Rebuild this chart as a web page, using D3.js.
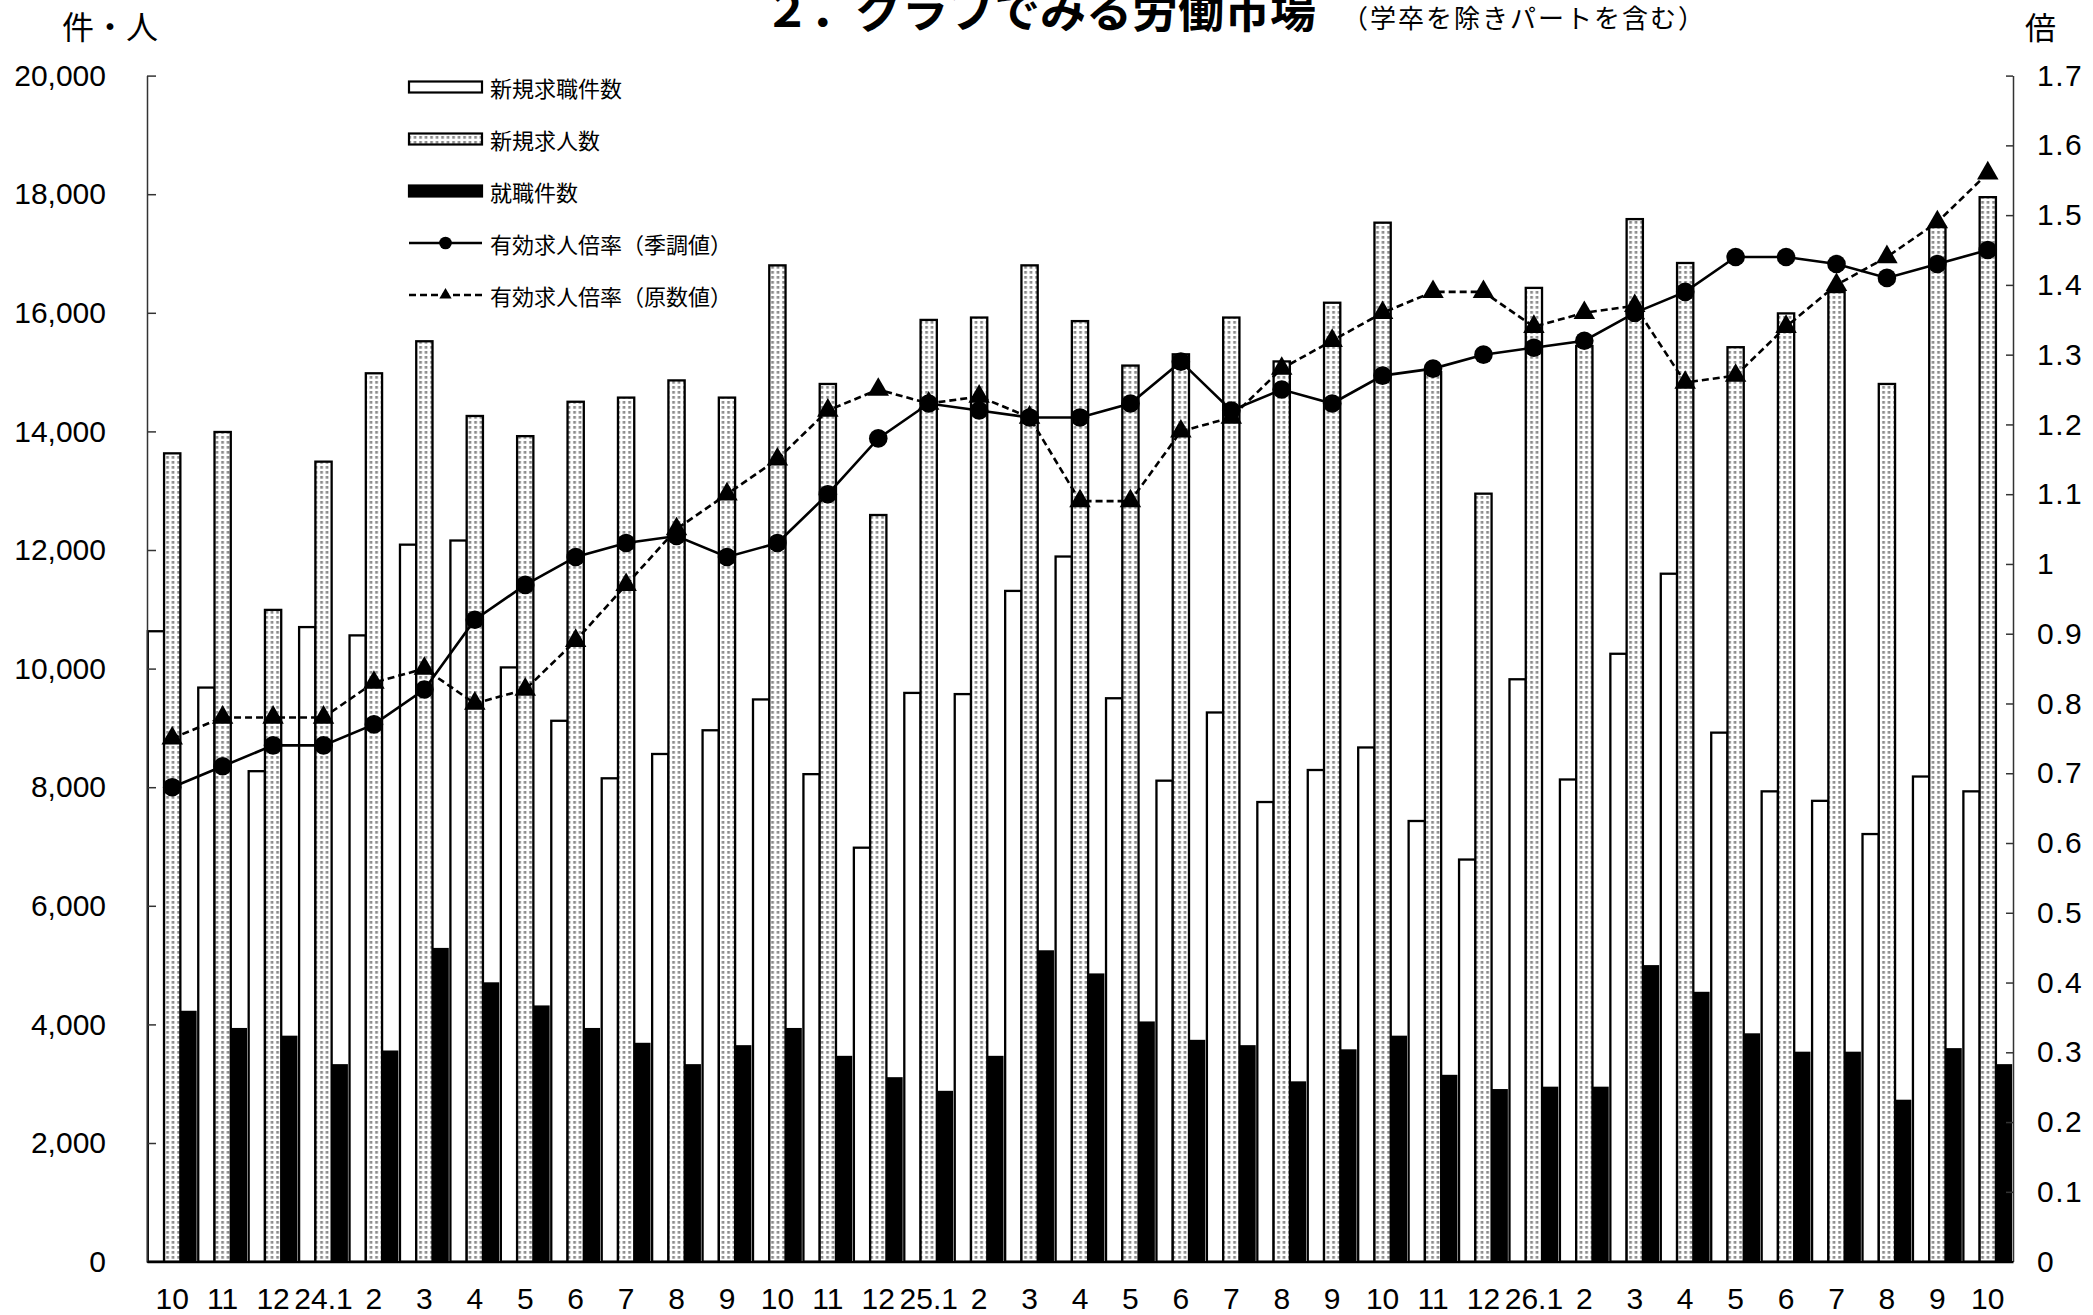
<!DOCTYPE html>
<html>
<head>
<meta charset="utf-8">
<script src="https://cdn.jsdelivr.net/npm/d3@7"></script>
<style>
  body { margin: 0; background: #fff; }
  svg { display: block; font-family: "Noto Sans CJK JP", "Noto Sans", sans-serif; }
</style>
</head>
<body>
<svg id="chart" width="2093" height="1315"></svg>
<script>
// 月ラベル（平成23年10月〜26年10月）
const months = ["10","11","12","24.1","2","3","4","5","6","7","8","9","10","11","12",
  "25.1","2","3","4","5","6","7","8","9","10","11","12",
  "26.1","2","3","4","5","6","7","8","9","10"];

// 新規求職件数
const seekers = [10630, 9680, 8270, 10700, 10560, 12090, 12160, 10020, 9120, 8150, 8560, 8960, 9480, 8220, 6980,
  9590, 9570, 11310, 11890, 9500, 8110, 9260, 7750, 8290, 8670, 7430, 6780,
  9820, 8130, 10250, 11600, 8920, 7930, 7770, 7210, 8180, 7930];
// 新規求人数
const offers = [13630, 13990, 10990, 13490, 14980, 15520, 14260, 13920, 14500, 14570, 14860, 14570, 16800, 14800, 12590,
  15880, 15920, 16800, 15860, 15110, 15300, 15920, 15180, 16170, 17520, 15000, 12950,
  16420, 15440, 17580, 16840, 15420, 15990, 16350, 14800, 17450, 17950];
// 就職件数
const placements = [4230, 3940, 3810, 3330, 3560, 5290, 4710, 4320, 3940, 3690, 3330, 3650, 3940, 3470, 3110,
  2880, 3470, 5250, 4860, 4050, 3740, 3650, 3040, 3580, 3810, 3150, 2910,
  2950, 2950, 5000, 4550, 3850, 3540, 3540, 2730, 3600, 3330];
// 有効求人倍率（季調値）
const ratioSA = [0.68, 0.71, 0.74, 0.74, 0.77, 0.82, 0.92, 0.97, 1.01, 1.03, 1.04, 1.01, 1.03, 1.10, 1.18,
  1.23, 1.22, 1.21, 1.21, 1.23, 1.29, 1.22, 1.25, 1.23, 1.27, 1.28, 1.30,
  1.31, 1.32, 1.36, 1.39, 1.44, 1.44, 1.43, 1.41, 1.43, 1.45];
// 有効求人倍率（原数値）
const ratioRaw = [0.75, 0.78, 0.78, 0.78, 0.83, 0.85, 0.80, 0.82, 0.89, 0.97, 1.05, 1.10, 1.15, 1.22, 1.25,
  1.23, 1.24, 1.21, 1.09, 1.09, 1.19, 1.21, 1.28, 1.32, 1.36, 1.39, 1.39,
  1.34, 1.36, 1.37, 1.26, 1.27, 1.34, 1.40, 1.44, 1.49, 1.56];

const barSeries = [
  { name: "新規求職件数", values: seekers, fill: "#fff" },
  { name: "新規求人数", values: offers, fill: "url(#dots)" },
  { name: "就職件数", values: placements, fill: "#000" }
];

const plotL = 147, plotR = 2013, plotT = 75.6, plotB = 1261.6;

const svg = d3.select("#chart");

// 点々模様
const pat = svg.append("defs").append("pattern")
  .attr("id", "dots")
  .attr("patternUnits", "userSpaceOnUse")
  .attr("width", 5.5).attr("height", 5);
pat.append("rect").attr("width", 5.5).attr("height", 5).attr("fill", "#fff");
pat.append("rect").attr("x", 1.2).attr("y", 1).attr("width", 2.7).attr("height", 2.7).attr("fill", "#8c8c8c");

const idx = d3.range(months.length);
const x = d3.scaleBand().domain(idx).range([plotL, plotR]);
const xi = d3.scaleBand().domain(d3.range(3)).range([0, x.bandwidth()]).paddingOuter(0.05);
const y = d3.scaleLinear().domain([0, 20000]).range([plotB, plotT]);
const y2 = d3.scaleLinear().domain([0, 1.7]).range([plotB, plotT]);

// 棒グラフ
barSeries.forEach((s, k) => {
  svg.append("g").selectAll("rect").data(s.values).enter().append("rect")
    .attr("x", (d, i) => x(i) + xi(k))
    .attr("y", d => y(d))
    .attr("width", xi.bandwidth())
    .attr("height", d => plotB - y(d))
    .attr("fill", s.fill)
    .attr("stroke", "#000")
    .attr("stroke-width", k === 2 ? 0 : 2.3);
});

// 軸
const axisL = svg.append("g")
  .attr("transform", `translate(${plotL},0)`)
  .call(d3.axisLeft(y).tickValues(d3.range(0, 20001, 2000)).tickSize(-9).tickSizeOuter(0).tickPadding(41)
    .tickFormat(d3.format(",")));
const axisR = svg.append("g")
  .attr("transform", `translate(${plotR},0)`)
  .call(d3.axisRight(y2).tickValues(d3.range(0, 18).map(d => d / 10)).tickSize(-7).tickSizeOuter(0).tickPadding(24)
    .tickFormat(d => String(+d.toFixed(1))));
const axisB = svg.append("g")
  .attr("transform", `translate(0,${plotB})`)
  .call(d3.axisBottom(x).tickSize(0).tickPadding(26).tickFormat(i => months[i]));

[axisL, axisR, axisB].forEach(a => {
  a.selectAll("text").style("font-size", "30px").attr("fill", "#000");
  a.selectAll("line").attr("stroke", "#333").attr("stroke-width", 1.5);
  a.select(".domain").attr("stroke", "#333").attr("stroke-width", 1.5);
});
axisR.selectAll("text").style("letter-spacing", "1.5px");
axisB.select(".domain").attr("stroke", "#000").attr("stroke-width", 2.2);

// 折れ線
const cx = i => x(i) + x.bandwidth() / 2;
svg.append("path").datum(ratioSA)
  .attr("fill", "none").attr("stroke", "#000").attr("stroke-width", 2.6)
  .attr("d", d3.line().x((d, i) => cx(i)).y(d => y2(d)));
svg.append("path").datum(ratioRaw)
  .attr("fill", "none").attr("stroke", "#000").attr("stroke-width", 2.6).attr("stroke-dasharray", "7,4")
  .attr("d", d3.line().x((d, i) => cx(i)).y(d => y2(d)));

svg.append("g").selectAll("circle").data(ratioSA).enter().append("circle")
  .attr("cx", (d, i) => cx(i)).attr("cy", d => y2(d)).attr("r", 9.3).attr("fill", "#000");
svg.append("g").selectAll("path").data(ratioRaw).enter().append("path")
  .attr("transform", (d, i) => `translate(${cx(i)},${y2(d)})`)
  .attr("d", d3.symbol(d3.symbolTriangle, 200)).attr("fill", "#000");

// 凡例
const legend = svg.append("g");
const lx = 409, lw = 73, rows = [87, 139, 191, 243, 295];
barSeries.forEach((s, k) => {
  legend.append("rect").attr("x", lx).attr("y", rows[k] - 5.5).attr("width", lw).attr("height", 11)
    .attr("fill", s.fill).attr("stroke", "#000").attr("stroke-width", 2.2);
});
legend.append("line").attr("x1", lx).attr("x2", lx + lw).attr("y1", rows[3]).attr("y2", rows[3])
  .attr("stroke", "#000").attr("stroke-width", 2.4);
legend.append("circle").attr("cx", lx + lw / 2).attr("cy", rows[3]).attr("r", 6.3).attr("fill", "#000");
legend.append("line").attr("x1", lx).attr("x2", lx + lw).attr("y1", rows[4]).attr("y2", rows[4])
  .attr("stroke", "#000").attr("stroke-width", 2.4).attr("stroke-dasharray", "7,4");
legend.append("path").attr("transform", `translate(${lx + lw / 2},${rows[4]})`)
  .attr("d", d3.symbol(d3.symbolTriangle, 65)).attr("fill", "#000");
const legendNames = barSeries.map(s => s.name).concat(["有効求人倍率（季調値）", "有効求人倍率（原数値）"]);
legendNames.forEach((n, k) => {
  legend.append("text").attr("x", 490).attr("y", rows[k]).attr("dominant-baseline", "central")
    .style("font-size", "22px").text(n);
});

// タイトル・単位（タイトルは元図と同じく上端で切れる）
svg.append("text").attr("x", 764).attr("y", 27).style("font-size", "46px").style("font-weight", "bold")
  .text("２．グラフでみる労働市場");
svg.append("text").attr("x", 1342).attr("y", 28).style("font-size", "26px").style("letter-spacing", "2px")
  .text("（学卒を除きパートを含む）");
svg.append("text").attr("x", 62).attr("y", 39).style("font-size", "32px").text("件・人");
svg.append("text").attr("x", 2025).attr("y", 39).style("font-size", "31px").text("倍");
</script>
</body>
</html>
